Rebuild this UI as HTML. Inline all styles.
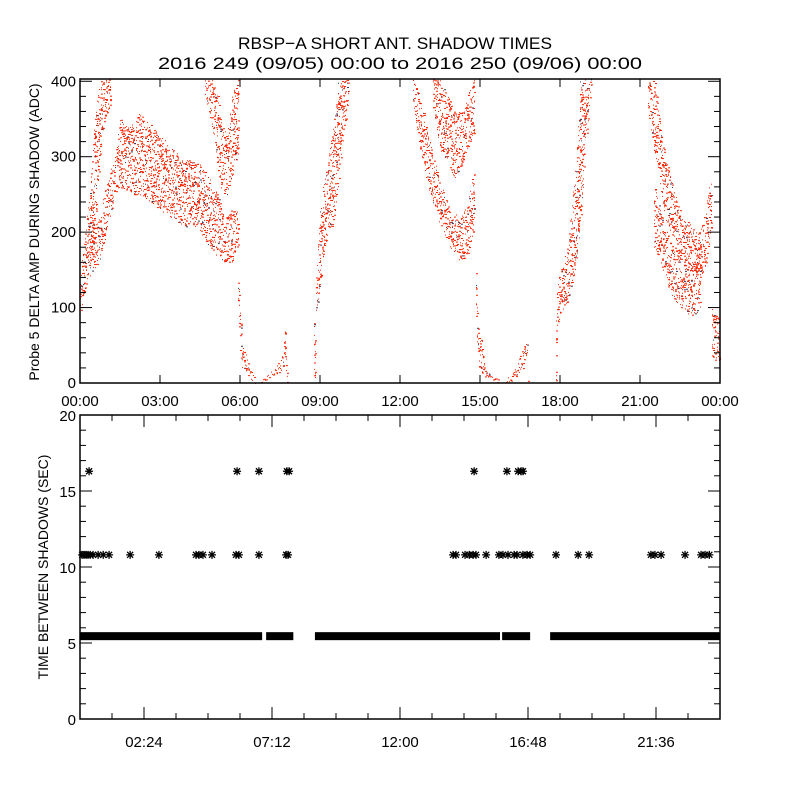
<!DOCTYPE html>
<html><head><meta charset="utf-8"><style>
html,body{margin:0;padding:0;background:#fff;}
svg{display:block;font-family:"Liberation Sans",sans-serif;}
</style></head><body>
<svg id="chart" width="800" height="800" viewBox="0 0 800 800">
<rect width="800" height="800" fill="#fff"/>
<text x="238" y="49" font-size="17" textLength="314" lengthAdjust="spacingAndGlyphs">RBSP−A SHORT ANT. SHADOW TIMES</text>
<text x="158" y="69" font-size="17" textLength="484" lengthAdjust="spacingAndGlyphs">2016 249 (09/05) 00:00 to 2016 250 (09/06) 00:00</text>
<g id="topPanel"></g>
<g id="botPanel"></g>
</svg>
<script>
// ---- Top panel data: envelopes [hour, low, high] (ADC) ----
const envLeftRise=[[0,90,140],[0.19,120,200],[0.38,150,260],[0.56,200,360],[0.75,300,400],[0.94,350,403],[1.12,360,403]];
const envBroad=[[0.38,140,200],[0.75,160,220],[0.94,190,260],[1.31,250,300],[1.5,260,350],[1.88,250,340],[2.25,250,360],[3.0,230,330],[3.75,210,300],[4.5,200,290],[5.06,170,260],[5.44,160,220],[5.7,160,230],[5.9,180,230]];
const envVee1=[[4.69,380,403],[4.95,340,403],[5.18,280,380],[5.33,250,340],[5.51,250,330],[5.7,270,380],[5.89,300,403]];
const envDrop1=[[5.93,100,150],[6.0,40,100],[6.08,20,60],[6.3,8,30],[6.56,0,6]];
const envDip1=[[6.82,0,5],[7.31,8,20],[7.61,18,40],[7.69,20,80],[7.76,0,20]];
const envRise2=[[8.81,0,80],[8.85,90,140],[9.0,120,230],[9.15,170,270],[9.3,200,300],[9.49,210,340],[9.68,260,400],[9.9,330,403],[10.05,370,403]];
const envU2=[[12.49,370,403],[12.83,290,370],[13.13,250,320],[13.5,210,270],[13.88,180,230],[14.25,160,220],[14.55,170,240],[14.74,200,280]];
const envVee2=[[13.24,360,403],[13.5,310,403],[13.8,290,380],[14.06,270,360],[14.33,290,360],[14.63,320,390],[14.74,330,403]];
const envDrop2=[[14.85,80,150],[14.93,20,70],[15.08,10,60],[15.19,5,20],[15.68,0,5]];
const envDip2=[[15.98,0,5],[16.31,5,20],[16.65,20,50],[16.76,40,65],[16.8,0,10]];
const envRise3=[[17.85,0,90],[17.89,80,130],[18.08,90,160],[18.3,110,190],[18.56,150,280],[18.75,200,400],[18.94,300,403],[19.13,380,403]];
const envUpper4=[[21.3,360,403],[21.56,300,400],[21.75,260,350],[21.94,220,300],[22.2,190,270],[22.5,170,230],[22.88,150,210],[23.25,140,200],[23.44,150,230],[23.63,190,270]];
const envLower4=[[21.56,180,260],[21.83,150,220],[22.13,120,190],[22.5,100,170],[22.88,90,160],[23.06,90,160],[23.25,100,190]];
const envTail4=[[23.7,30,100],[23.95,30,90]];
const topEnvelopes=[envLeftRise,envBroad,envVee1,envDrop1,envDip1,envRise2,envU2,envVee2,envDrop2,envDip2,envRise3,envUpper4,envLower4,envTail4];
const topXTicks=["00:00","03:00","06:00","09:00","12:00","15:00","18:00","21:00","00:00"];
const topYTicks=[0,100,200,300,400];

// ---- Bottom panel data ----
const band55Segments=[[0,6.83],[6.98,8.0],[8.81,15.75],[15.83,16.88],[17.63,24]];
const band55Value=5.45;
const stars108=[0.08,0.15,0.23,0.3,0.38,0.49,0.68,0.87,1.09,1.88,2.96,4.35,4.46,4.61,4.95,5.85,5.96,6.71,7.73,7.8,13.99,14.1,14.44,14.6,14.74,14.85,15.23,15.71,15.86,16.05,16.28,16.39,16.61,16.76,16.88,17.85,18.68,19.09,21.41,21.56,21.79,22.69,23.29,23.44,23.6];
const stars108Value=10.8;
const stars163=[0.34,5.89,6.71,7.76,7.84,14.78,16.01,16.43,16.54,16.61];
const stars163Value=16.3;
const botXTicks=["02:24","07:12","12:00","16:48","21:36"];
const botYTicks=[0,5,10,15,20];

(function(){
const NS="http://www.w3.org/2000/svg";
function mk(tag,attrs,parent){const e=document.createElementNS(NS,tag);for(const k in attrs)e.setAttribute(k,attrs[k]);parent.appendChild(e);return e;}
const L=80,R=720,T1=79,B1=383,T2=415,B2=719;
const xT=h=>L+h/24*(R-L);
const yT=v=>B1-v*(B1-T1)/403;
const yB=v=>B2-v*(B2-T2)/20;
function hash(n){const s=Math.sin(n*12.9898+78.233)*43758.5453;return s-Math.floor(s);}
function envAt(env,h){for(let i=0;i<env.length-1;i++){const a=env[i],b=env[i+1];if(h>=a[0]&&h<=b[0]){const f=(h-a[0])/((b[0]-a[0])||1);return [a[1]+f*(b[1]-a[1]),a[2]+f*(b[2]-a[2])];}}return null;}

const topG=document.getElementById('topPanel');
const dots=mk('g',{},topG);


let seed=1;
topEnvelopes.forEach(env=>{
  const x0=xT(env[0][0]),x1=xT(env[env.length-1][0]);
  for(let x=Math.floor(x0);x<=Math.ceil(x1);x++){
    const h=(x-L)/(R-L)*24;const r=envAt(env,Math.min(Math.max(h,env[0][0]),env[env.length-1][0]));if(!r)continue;
    const span=Math.abs(yT(r[0])-yT(r[1]));
    const n=Math.max(1,Math.round(span*0.17));
    for(let k=0;k<n;k++){seed++;
      const v=r[0]+hash(seed)*(r[1]-r[0]);
      const d=mk('rect',{x:x,y:yT(v).toFixed(1),width:hash(seed+0.5)>0.6?2:1,height:1,fill:hash(seed+0.3)>0.93?'#3a3a60':'#ff2200'},dots);
      
      
    }
  }
});
const f1=mk('rect',{x:L,y:T1,width:R-L,height:B1-T1,fill:'none',stroke:'#000','stroke-width':1.5},topG);

topXTicks.forEach((t,i)=>{const x=xT(i*3);
  mk('line',{x1:x,y1:B1,x2:x,y2:B1-8,stroke:'#000'},topG);mk('line',{x1:x,y1:T1,x2:x,y2:T1+8,stroke:'#000'},topG);
  const tx=mk('text',{x:x,y:406,'font-size':15,'text-anchor':'middle'},topG);tx.textContent=t;
  });
for(let v=0;v<=400;v+=20){const y=yT(v),len=v%100==0?12:6;
  mk('line',{x1:L,y1:y,x2:L+len,y2:y,stroke:'#000'},topG);mk('line',{x1:R,y1:y,x2:R-len,y2:y,stroke:'#000'},topG);}
topYTicks.forEach(v=>{const tx=mk('text',{x:76,y:yT(v)+5,'font-size':15,'text-anchor':'end'},topG);tx.textContent=v;
  });
const yt1=mk('text',{x:0,y:0,'font-size':14,'text-anchor':'middle',transform:'translate(39,232) rotate(-90)'},topG);
yt1.textContent='Probe 5 DELTA AMP DURING SHADOW (ADC)';


const botG=document.getElementById('botPanel');
function star(x,y,g){
  const s=mk('path',{d:`M${x-4} ${y}H${x+4}M${x} ${y-4}V${y+4}M${x-3} ${y-3}L${x+3} ${y+3}M${x-3} ${y+3}L${x+3} ${y-3}`,stroke:'#000','stroke-width':1.3,fill:'none'},g);
  }
const sg=mk('g',{},botG);

band55Segments.forEach(s=>{const x0=xT(s[0]),x1=xT(s[1]);
  const r=mk('rect',{x:x0,y:yB(band55Value)-4,width:x1-x0,height:8,fill:'#000'},sg);
  });
stars108.forEach(h=>star(xT(h),yB(stars108Value),sg));
stars163.forEach(h=>star(xT(h),yB(stars163Value),sg));
const f2=mk('rect',{x:L,y:T2,width:R-L,height:B2-T2,fill:'none',stroke:'#000','stroke-width':1.5},botG);

for(let i=1;i<20;i++){const x=xT(i*1.2),len=i%4==2?12:6;
  mk('line',{x1:x,y1:B2,x2:x,y2:B2-len,stroke:'#000'},botG);mk('line',{x1:x,y1:T2,x2:x,y2:T2+len,stroke:'#000'},botG);}
botXTicks.forEach((t,i)=>{const tx=mk('text',{x:xT(2.4+i*4.8),y:747,'font-size':15,'text-anchor':'middle'},botG);tx.textContent=t;
  });
for(let v=0;v<=20;v++){const y=yB(v),len=v%5==0?12:6;
  mk('line',{x1:L,y1:y,x2:L+len,y2:y,stroke:'#000'},botG);mk('line',{x1:R,y1:y,x2:R-len,y2:y,stroke:'#000'},botG);}
botYTicks.forEach(v=>{const tx=mk('text',{x:76,y:yB(v)+6,'font-size':15,'text-anchor':'end'},botG);tx.textContent=v;
  });
const yt2=mk('text',{x:0,y:0,'font-size':14,'text-anchor':'middle',transform:'translate(48,567) rotate(-90)'},botG);
yt2.textContent='TIME BETWEEN SHADOWS (SEC)';

})();
</script>
</body></html>
